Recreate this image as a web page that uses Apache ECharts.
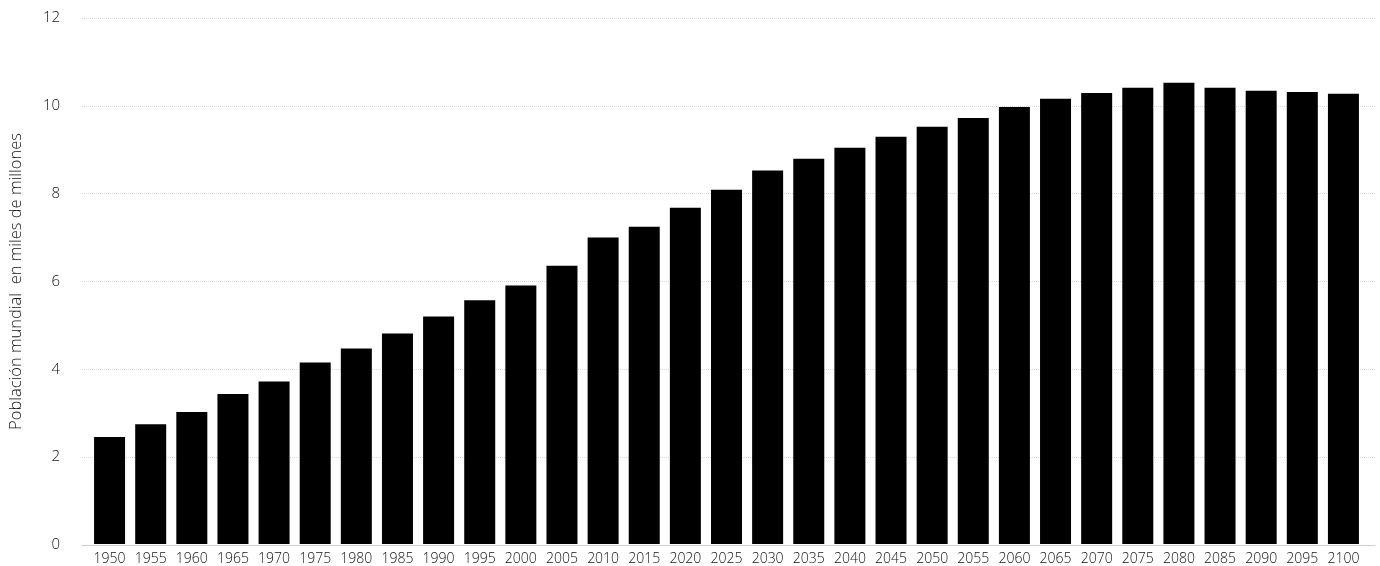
<!DOCTYPE html>
<html>
<head>
<meta charset="utf-8">
<script src="https://cdn.jsdelivr.net/npm/echarts@6/dist/echarts.min.js"></script>
<style>
html,body{margin:0;padding:0;background:#fff;}
#chart{width:1380px;height:566px;}
</style>
</head>
<body>
<div id="chart"></div>
<script>
const years = ['1950','1955','1960','1965','1970','1975','1980','1985','1990','1995','2000','2005','2010','2015','2020','2025','2030','2035','2040','2045','2050','2055','2060','2065','2070','2075','2080','2085','2090','2095','2100'];
const population = [2.44,2.73,3.01,3.42,3.71,4.14,4.46,4.80,5.19,5.56,5.90,6.35,6.99,7.24,7.67,8.08,8.52,8.79,9.04,9.29,9.52,9.72,9.97,10.16,10.29,10.41,10.52,10.41,10.34,10.31,10.27];
const yTicks = {min:0, max:12, interval:2};
const yName = 'Población mundial  en miles de millones';

const font = '"Open Sans", sans-serif';
const txt = '#111';
const chart = echarts.init(document.getElementById('chart'));
chart.setOption({
  animation:false,
  textStyle:{fontFamily:font},
  grid:[
    {left:89, right:16, top:18, bottom:21, containLabel:false},
    {left:79, right:5, top:18, bottom:21, containLabel:false}
  ],
  xAxis:[
    {
      type:'category', data:years, gridIndex:0,
      axisLine:{show:false},
      axisTick:{show:false},
      axisLabel:{color:txt, fontSize:14, fontFamily:font, fontWeight:300, margin:8, interval:0}
    },
    {
      type:'value', gridIndex:1, min:0, max:1,
      axisLine:{show:true, onZero:false, lineStyle:{color:'#cccccc'}},
      axisTick:{show:false}, axisLabel:{show:false}, splitLine:{show:false}
    }
  ],
  yAxis:[
    {
      type:'value', gridIndex:0, min:yTicks.min, max:yTicks.max, interval:yTicks.interval,
      axisLine:{show:false}, axisTick:{show:false}, axisLabel:{show:false}, splitLine:{show:false}
    },
    {
      type:'value', gridIndex:1, min:yTicks.min, max:yTicks.max, interval:yTicks.interval,
      name:yName, nameLocation:'middle', nameGap:57, nameRotate:90,
      nameTextStyle:{color:txt, fontSize:16.5, fontFamily:font, fontWeight:300},
      axisLine:{show:false}, axisTick:{show:false},
      axisLabel:{color:txt, fontSize:15, fontFamily:font, fontWeight:300, margin:22},
      splitLine:{lineStyle:{color:'#d9d9d9', type:'dotted'}}
    }
  ],
  series:[{type:'bar', data:population, xAxisIndex:0, yAxisIndex:0, barWidth:31, itemStyle:{color:'#000'}}]
});
</script>
</body>
</html>
